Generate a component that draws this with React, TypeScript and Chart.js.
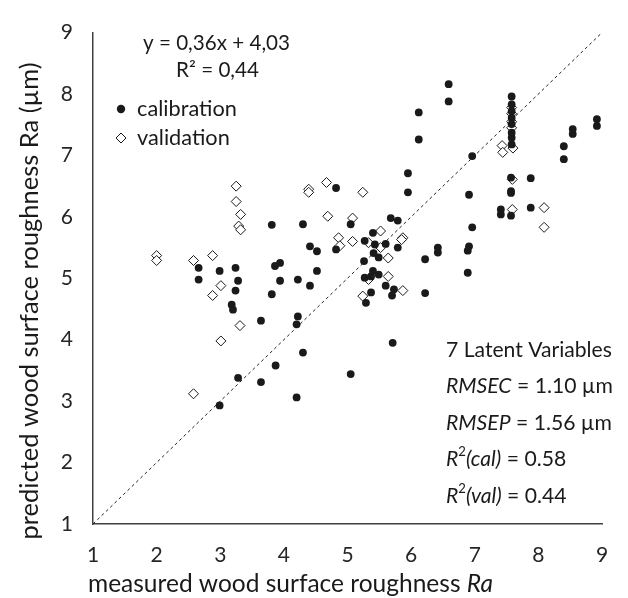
import React, { useEffect, useRef } from 'react';
import { Chart, registerables } from 'chart.js';
Chart.register(...registerables);

// ---- data ----
const calX = [4.82, 3.81, 2.66, 2.99, 3.24, 3.86, 3.94, 2.66, 3.28, 3.94, 4.22, 3.24, 3.81, 3.18, 3.20, 3.64, 4.22, 4.20, 3.87, 3.28, 3.64, 5.05, 2.99, 4.20,
  5.95, 6.91, 4.30, 5.05, 5.68, 5.79, 6.96, 4.82, 4.41, 4.52, 5.40, 5.27, 5.43, 5.60, 5.79, 5.41, 5.49, 5.26, 6.22, 6.42, 6.42, 6.91, 6.89,
  4.52, 4.41, 5.40, 5.27, 5.37, 5.49, 6.89, 5.60, 5.73, 5.70, 5.37, 5.29, 6.22, 5.71, 4.30,
  6.59, 6.59, 6.12, 6.12, 6.96, 5.95, 8.92, 8.92, 8.54, 8.54, 8.40, 8.40, 7.57, 7.88, 7.57, 7.57, 7.41, 7.41, 7.57, 7.88,
  7.58, 7.58, 7.58, 7.58, 7.58, 7.58, 7.58, 7.58];
const calY = [6.47, 5.87, 5.17, 5.12, 5.17, 5.20, 5.25, 4.98, 4.96, 4.96, 4.98, 4.80, 4.74, 4.57, 4.49, 4.31, 4.38, 4.25, 3.58, 3.38, 3.31, 3.44, 2.93, 3.06,
  6.40, 6.36, 5.88, 5.88, 5.98, 5.94, 5.83, 5.47, 5.52, 5.44, 5.74, 5.61, 5.55, 5.56, 5.50, 5.41, 5.34, 5.28, 5.31, 5.50, 5.42, 5.52, 5.45,
  5.12, 4.88, 5.12, 5.01, 5.03, 5.06, 5.09, 4.88, 4.82, 4.72, 4.77, 4.60, 4.76, 3.95, 3.79,
  8.16, 7.88, 7.70, 7.26, 6.99, 6.71, 7.59, 7.48, 7.43, 7.35, 7.15, 6.94, 6.64, 6.63, 6.42, 6.39, 6.12, 6.04, 6.02, 6.15,
  7.96, 7.83, 7.72, 7.61, 7.51, 7.37, 7.29, 7.18];

const valX = [3.25, 3.25, 4.39, 4.39, 4.67, 5.24, 3.32, 3.29, 3.32, 2.00, 2.00, 2.58, 2.88, 3.01, 2.88, 3.31, 3.01, 2.58,
  4.69, 5.08, 4.86, 4.88, 5.08, 5.52, 5.33, 5.52, 5.87, 5.85, 5.64, 5.33, 5.64, 5.87, 5.24,
  7.59, 7.59, 8.09, 8.09, 7.43, 7.44, 7.60, 7.58, 7.58, 7.58, 7.58];
const valY = [6.50, 6.25, 6.45, 6.40, 6.56, 6.40, 6.04, 5.85, 5.79, 5.37, 5.29, 5.29, 5.37, 4.88, 4.72, 4.23, 3.98, 3.12,
  6.01, 5.98, 5.66, 5.53, 5.60, 5.77, 5.58, 5.50, 5.66, 5.63, 5.33, 4.98, 5.03, 4.80, 4.71,
  6.61, 6.12, 6.15, 5.83, 7.16, 7.05, 7.12, 7.78, 7.68, 7.55, 7.45];

const oneToOneX = [1, 9];
const oneToOneY = [1, 9];

const xTicks = [1, 2, 3, 4, 5, 6, 7, 8, 9];
const yTicks = [1, 2, 3, 4, 5, 6, 7, 8, 9];

const seriesNames = ['calibration', 'validation'];
const equationText = ['y = 0,36x + 4,03', 'R² = 0,44'];
const xTitle = 'measured wood surface roughness ';
const xTitleItalic = 'Ra';
const yTitle = 'predicted wood surface roughness Ra (µm)';
const latentText = '7 Latent Variables';
const rmsecText = ['RMSEC', ' = 1.10 µm'];
const rmsepText = ['RMSEP', ' = 1.56 µm'];
const r2calText = ['R', '2', '(cal)', ' = 0.58'];
const r2valText = ['R', '2', '(val)', ' = 0.44'];

const FAMILY = 'Lato';
const INK = '#1a1a1a';

type Run = { t: string; i?: boolean; sup?: boolean };

function fontStr(size: number, italic?: boolean) {
  return `${italic ? 'italic ' : ''}${size}px ${FAMILY}`;
}

function measureRuns(ctx: CanvasRenderingContext2D, runs: Run[], size: number) {
  let w = 0;
  for (const r of runs) {
    ctx.font = fontStr(r.sup ? size * 0.62 : size, r.i);
    w += ctx.measureText(r.t).width;
  }
  return w;
}

function fitSize(ctx: CanvasRenderingContext2D, runs: Run[], target: number) {
  const w = measureRuns(ctx, runs, 100);
  return (100 * target) / w;
}

function drawRuns(ctx: CanvasRenderingContext2D, runs: Run[], x: number, y: number, size: number, align: 'left' | 'center') {
  const total = measureRuns(ctx, runs, size);
  let cx = align === 'center' ? x - total / 2 : x;
  ctx.textAlign = 'left';
  ctx.textBaseline = 'middle';
  for (const r of runs) {
    const s = r.sup ? size * 0.62 : size;
    ctx.font = fontStr(s, r.i);
    ctx.fillText(r.t, cx, r.sup ? y - size * 0.33 : y);
    cx += ctx.measureText(r.t).width;
  }
}

const textPlugin = {
  id: 'overlayTexts',
  afterDraw(chart: any) {
    const ctx: CanvasRenderingContext2D = chart.ctx;
    ctx.save();
    ctx.fillStyle = INK;
    ctx.strokeStyle = INK;

    // equation
    const eqSize = fitSize(ctx, [{ t: equationText[0] }], 147);
    drawRuns(ctx, [{ t: equationText[0] }], 216.5, 43, eqSize, 'center');
    drawRuns(ctx, [{ t: equationText[1] }], 217.5, 70, eqSize, 'center');

    // legend
    const lgSize = fitSize(ctx, [{ t: seriesNames[0] }], 100);
    ctx.beginPath();
    ctx.arc(121, 109, 4.2, 0, Math.PI * 2);
    ctx.fill();
    drawRuns(ctx, [{ t: seriesNames[0] }], 137, 109, lgSize, 'left');
    ctx.beginPath();
    ctx.moveTo(121, 138 - 5);
    ctx.lineTo(126, 138);
    ctx.lineTo(121, 138 + 5);
    ctx.lineTo(116, 138);
    ctx.closePath();
    ctx.fillStyle = '#fff';
    ctx.fill();
    ctx.lineWidth = 1;
    ctx.stroke();
    ctx.fillStyle = INK;
    drawRuns(ctx, [{ t: seriesNames[1] }], 137, 138, lgSize, 'left');

    // stats
    const stSize = fitSize(ctx, [{ t: latentText }], 166);
    const sx = 446;
    drawRuns(ctx, [{ t: latentText }], sx, 350, stSize, 'left');
    drawRuns(ctx, [{ t: rmsecText[0], i: true }, { t: rmsecText[1] }], sx, 386, stSize, 'left');
    drawRuns(ctx, [{ t: rmsepText[0], i: true }, { t: rmsepText[1] }], sx, 423, stSize, 'left');
    drawRuns(ctx, [{ t: r2calText[0], i: true }, { t: r2calText[1], sup: true }, { t: r2calText[2], i: true }, { t: r2calText[3] }], sx, 459, stSize, 'left');
    drawRuns(ctx, [{ t: r2valText[0], i: true }, { t: r2valText[1], sup: true }, { t: r2valText[2], i: true }, { t: r2valText[3] }], sx, 496, stSize, 'left');

    // axis titles
    const xRuns: Run[] = [{ t: xTitle }, { t: xTitleItalic, i: true }];
    const xtSize = fitSize(ctx, xRuns, 405);
    drawRuns(ctx, xRuns, 88, 584, xtSize, 'left');

    const yRuns: Run[] = [{ t: yTitle }];
    const ytSize = fitSize(ctx, yRuns, 477);
    ctx.save();
    ctx.translate(30, 301);
    ctx.rotate(-Math.PI / 2);
    drawRuns(ctx, yRuns, 0, 0, ytSize, 'center');
    ctx.restore();

    ctx.restore();
  },
};

export default function App() {
  const ref = useRef<HTMLCanvasElement | null>(null);

  useEffect(() => {
    document.body.style.margin = '0';
    let chart: Chart | null = null;
    let cancelled = false;
    const build = () => {
      if (cancelled || !ref.current) return;
      const tickFont = { family: FAMILY, size: 21 };
      chart = new Chart(ref.current, {
        type: 'scatter',
        data: {
          datasets: [
            {
              type: 'line',
              label: '1:1',
              data: oneToOneX.map((x, i) => ({ x, y: oneToOneY[i] })),
              borderColor: '#222',
              borderWidth: 1,
              borderDash: [3, 3],
              pointRadius: 0,
              fill: false,
              order: 2,
            } as any,
            {
              label: seriesNames[0],
              data: calX.map((x, i) => ({ x, y: calY[i] })),
              pointStyle: 'circle',
              pointRadius: 3.9,
              backgroundColor: INK,
              borderColor: INK,
              borderWidth: 0,
              order: 0,
            },
            {
              label: seriesNames[1],
              data: valX.map((x, i) => ({ x, y: valY[i] })),
              pointStyle: 'rectRot',
              pointRadius: 5,
              backgroundColor: '#ffffff',
              borderColor: INK,
              borderWidth: 1,
              order: 1,
            },
          ],
        },
        options: {
          animation: false,
          responsive: false,
          devicePixelRatio: 1,
          layout: { padding: { top: 19, right: 26, left: 0, bottom: 0 } },
          plugins: { legend: { display: false }, tooltip: { enabled: false } },
          scales: {
            x: {
              type: 'linear',
              min: 1,
              max: 9,
              afterFit: (s: any) => { s.height = 74; },
              afterBuildTicks: (s: any) => { s.ticks = xTicks.map((v) => ({ value: v })); },
              ticks: { color: '#262626', font: tickFont, padding: 19, maxRotation: 0 },
              grid: { display: false, drawTicks: false },
              border: { display: true, color: '#404040', width: 1.5 },
            },
            y: {
              type: 'linear',
              min: 1,
              max: 9,
              afterFit: (s: any) => { s.width = 93; },
              afterBuildTicks: (s: any) => { s.ticks = yTicks.map((v) => ({ value: v })); },
              ticks: { color: '#262626', font: tickFont, padding: 20 },
              grid: { display: false, drawTicks: false },
              border: { display: true, color: '#404040', width: 1.5 },
            },
          },
        },
        plugins: [textPlugin],
      });
    };
    const fonts = (document as any).fonts;
    if (fonts && fonts.load) {
      Promise.all([
        fonts.load(`20px ${FAMILY}`),
        fonts.load(`italic 20px ${FAMILY}`),
      ]).then(build, build);
    } else {
      build();
    }
    return () => {
      cancelled = true;
      if (chart) chart.destroy();
    };
  }, []);

  return (
    <div style={{ width: 628, height: 598 }}>
      <canvas ref={ref} width={628} height={598} style={{ width: 628, height: 598, display: 'block' }} />
    </div>
  );
}
